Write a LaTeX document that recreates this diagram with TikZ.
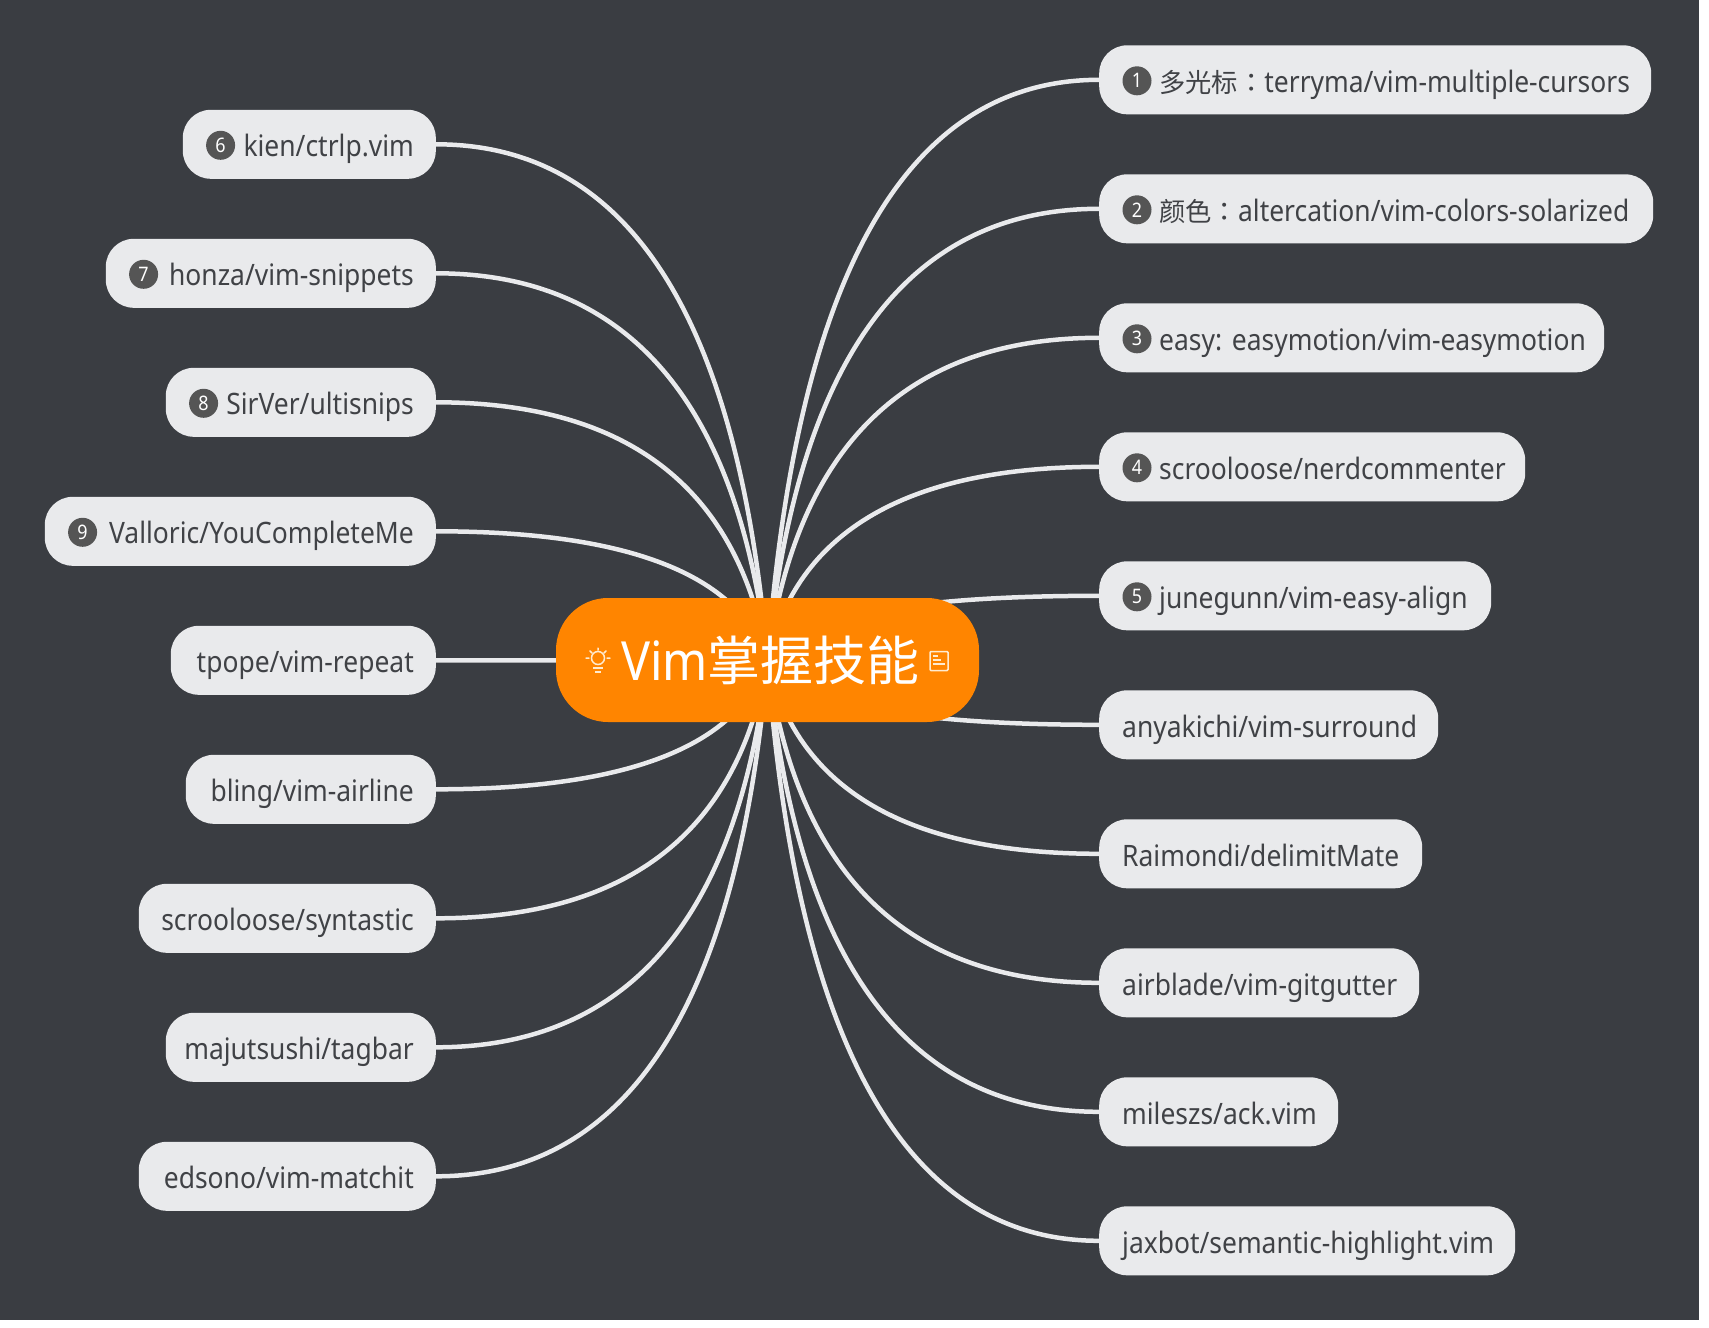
\documentclass[tikz,border=0pt]{standalone}
\usepackage{fontspec}
\setmainfont[FakeStretch=0.896]{Noto Sans}
\newfontfamily\cjk{Noto Sans CJK SC}
\newfontfamily\cjkcolon{Noto Sans CJK TC}
\usetikzlibrary{calc}
\pgfdeclarelayer{bg}
\pgfsetlayers{bg,main}
\definecolor{bgc}{HTML}{3A3D42}
\definecolor{pillc}{HTML}{E9EAEC}
\definecolor{txtc}{HTML}{404246}
\definecolor{badgec}{HTML}{555555}
\definecolor{orangec}{HTML}{FF8500}
\definecolor{iconc}{HTML}{FFEBD0}
\tikzset{
  pill/.style={fill=pillc,rounded corners=28pt,minimum height=69pt,inner xsep=0pt,inner ysep=0pt,
    text=txtc,font=\fontsize{29.5}{32}\selectfont\frenchspacing,text height=31pt,text depth=6pt},
  rpill/.style={pill,anchor=west,align=left},
  lpill/.style={pill,anchor=east,align=right},
  badge/.style={circle,fill=badgec,minimum size=29pt,inner sep=0pt,text=white,font=\fontsize{20}{22}\selectfont},
  conn/.style={draw=pillc,line width=4.5pt},
  root/.style={fill=orangec,rounded corners=52pt,minimum width=423pt,minimum height=124pt,inner sep=0pt,
    text=white,font=\fontsize{54}{58}\selectfont},
  icon/.style={draw=iconc,line width=1.5pt}
}
\newcommand{\cj}[1]{{\fontsize{26.3}{32}\selectfont\cjk #1}}
\newcommand{\cjc}{{\fontsize{26.3}{32}\selectfont\cjkcolon ：}}
\begin{document}
\begin{tikzpicture}[x=1pt,y=-1pt]
\useasboundingbox (0,0) rectangle (1709,1328);
\begin{pgfonlayer}{bg}
\fill[bgc] (0,0) rectangle (1699,1320);
\end{pgfonlayer}
\node[root] (c) at (767.5,660) {\hspace*{6pt}Vim{\fontsize{53}{58}\selectfont\cjk 掌握技能}};
% right
\node[rpill,text width=552pt] (r1) at (1099,79.8) {\hspace*{60pt}\cj{多光标}\cjc terryma/vim-multiple-cursors};
\node[rpill,text width=554pt] (r2) at (1099,208.8) {\hspace*{60pt}\cj{颜色}\cjc altercation/vim-colors-solarized};
\node[rpill,text width=505pt] (r3) at (1099,337.8) {\hspace*{60pt}easy: easymotion/vim-easymotion};
\node[rpill,text width=426pt] (r4) at (1099,466.8) {\hspace*{60pt}scrooloose/nerdcommenter};
\node[rpill,text width=392pt] (r5) at (1099,595.8) {\hspace*{60pt}junegunn/vim-easy-align};
\node[rpill,text width=339pt] (r6) at (1099,724.8) {\hspace*{23pt}anyakichi/vim-surround};
\node[rpill,text width=323pt] (r7) at (1099,853.8) {\hspace*{23pt}Raimondi/delimitMate};
\node[rpill,text width=320pt] (r8) at (1099,982.8) {\hspace*{23pt}airblade/vim-gitgutter};
\node[rpill,text width=239pt] (r9) at (1099,1111.8) {\hspace*{23pt}mileszs/ack.vim};
\node[rpill,text width=416pt] (r10) at (1099,1240.8) {\hspace*{23pt}jaxbot/semantic-highlight.vim};
% left
\node[lpill,text width=253pt] (l1) at (436,144.3) {kien/ctrlp.vim\hspace*{22pt}};
\node[lpill,text width=330pt] (l2) at (436,273.3) {honza/vim-snippets\hspace*{22pt}};
\node[lpill,text width=270pt] (l3) at (436,402.3) {SirVer/ultisnips\hspace*{22pt}};
\node[lpill,text width=391pt] (l4) at (436,531.3) {Valloric/YouCompleteMe\hspace*{22pt}};
\node[lpill,text width=265pt] (l5) at (436,660.3) {tpope/vim-repeat\hspace*{22pt}};
\node[lpill,text width=250pt] (l6) at (436,789.3) {bling/vim-airline\hspace*{22pt}};
\node[lpill,text width=297pt] (l7) at (436,918.3) {scrooloose/syntastic\hspace*{22pt}};
\node[lpill,text width=270pt] (l8) at (436,1047.3) {majutsushi/tagbar\hspace*{22pt}};
\node[lpill,text width=297pt] (l9) at (436,1176.3) {edsono/vim-matchit\hspace*{22pt}};
% badges
\foreach \n/\t in {r1/1,r2/2,r3/3,r4/4,r5/5}{\node[badge] (b\t) at ($(\n.west)+(38,1)$) {\t};}
\foreach \n/\t in {l1/6,l2/7,l3/8,l4/9}{\node[badge] (b\t) at ($(\n.west)+(38,1)$) {\t};}
% connectors
\coordinate (cr) at (811,660);
\coordinate (cl) at (724,660);
\begin{pgfonlayer}{bg}
\foreach \n in {r1,r2,r3,r4,r5,r6,r7,r8,r9,r10}{
  \coordinate (q) at (cr |- \n.west);
  \draw[conn] (\n.west) .. controls ($(\n.west)!2/3!(q)$) and ($(c.center)!2/3!(q)$) .. (c.center);
}
\foreach \n in {l1,l2,l3,l4,l5,l6,l7,l8,l9}{
  \coordinate (q) at (cl |- \n.east);
  \draw[conn] (\n.east) .. controls ($(\n.east)!2/3!(q)$) and ($(c.center)!2/3!(q)$) .. (c.center);
}
\end{pgfonlayer}
% bulb icon
\draw[icon] (598,658) circle (6.5);
\draw[icon] (593,668) -- (603,668) (595,672) -- (601,672);
\draw[icon,line cap=round] (586,658) -- (589,658) (607,658) -- (610,658) (598,648) -- (598,650)
  (590,651) -- (592,653) (606,651) -- (604,653);
% note icon
\draw[icon,rounded corners=1pt] (930,651.5) rectangle (948,670.5);
\draw[icon,line width=1.2pt] (933,656) -- (938,656) (933,660) -- (941,660) (933,664) -- (945,664);
\end{tikzpicture}
\end{document}
